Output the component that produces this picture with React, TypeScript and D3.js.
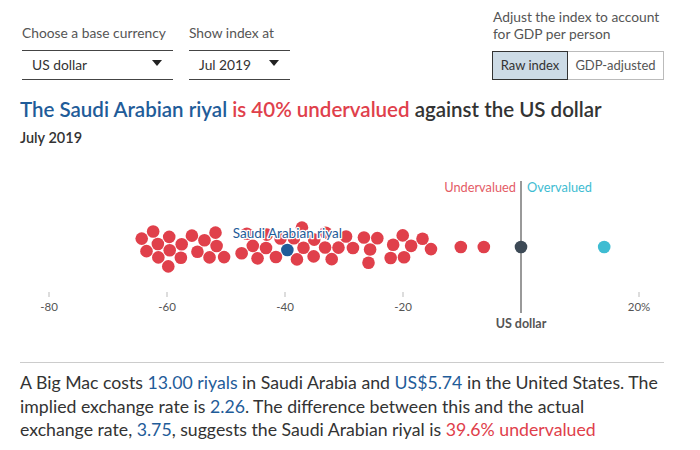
import React, { useMemo } from "react";
import * as d3 from "d3";

const redValues = [
  -64.2, -62.9, -62.2, -61.7, -61.2, -60.3, -59.7, -59.5, -57.8, -57.5, -55.8,
  -54.2, -53.9, -53.2, -51.9, -51.5, -50.5, -47.1, -46.3, -45.1, -44.5, -43.9,
  -43.1, -41.7, -40.5, -38.5, -37.8, -37.5, -36.3, -35.4, -34.9, -33.7, -33.2,
  -32.0, -31.0, -29.8, -28.5, -26.4, -25.8, -25.6, -24.6, -21.9, -21.5, -20.2,
  -19.8, -18.6, -16.9, -15.3, -10.2, -6.3,
];
const overValues = [14.1];
const baseValue = 0;
const highlightValue = -39.6;
const highlightName = "Saudi Arabian riyal";
const tickValues = [-80, -60, -40, -20, 20];
const tickLabels = ["-80", "-60", "-40", "-20", "20%"];

const FONT = "Lato, 'Open Sans', sans-serif";
const RED = "#e0404b";
const BLUE = "#1f5c99";
const LIGHT = "#3ebcd2";
const DARK = "#3d4a56";
const TEXT = "#333";
const GREY = "#555";

type Node = { value: number; kind: string; x: number; y: number; fx?: number; fy?: number };

export default function App() {
  const x = d3.scaleLinear().domain([-80, 20]).range([49, 639]);
  const cy = 247;
  const r = 6.3;

  const nodes = useMemo(() => {
    const ns: Node[] = [
      { value: highlightValue, kind: "hl", x: x(highlightValue), y: cy + 3, fx: x(highlightValue), fy: cy + 3 },
      ...redValues.map((v) => ({ value: v, kind: "red", x: x(v), y: cy })),
      ...overValues.map((v) => ({ value: v, kind: "over", x: x(v), y: cy })),
      { value: baseValue, kind: "base", x: x(baseValue), y: cy },
    ];
    const sim = d3
      .forceSimulation(ns as any)
      .force("x", d3.forceX((d: any) => x(d.value)).strength(0.6))
      .force("y", d3.forceY(cy).strength(0.09))
      .force("c", d3.forceCollide(r + 0.4).iterations(3))
      .stop();
    for (let i = 0; i < 300; i++) sim.tick();
    return ns;
  }, []);

  const colorOf = (k: string) =>
    k === "red" ? RED : k === "over" ? LIGHT : k === "base" ? DARK : BLUE;

  const hl = nodes.find((n) => n.kind === "hl")!;
  const others = nodes.filter((n) => n.kind !== "hl");

  return (
    <svg
      width={700}
      height={450}
      style={{ position: "absolute", left: 0, top: 0, background: "#fff" }}
      fontFamily={FONT}
    >
      {/* controls */}
      <text x={22} y={38} fontSize={13.8} fill={GREY}>Choose a base currency</text>
      <line x1={22} x2={173} y1={50.5} y2={50.5} stroke="#444" />
      <text x={32} y={70} fontSize={13.8} fill={TEXT}>US dollar</text>
      <path d="M152,60 L162,60 L157,66 Z" fill="#222" />
      <line x1={22} x2={173} y1={79.5} y2={79.5} stroke="#444" />

      <text x={189} y={38} fontSize={13.8} fill={GREY}>Show index at</text>
      <line x1={189} x2={290} y1={50.5} y2={50.5} stroke="#444" />
      <text x={199} y={70} fontSize={13.8} fill={TEXT}>Jul 2019</text>
      <path d="M269,60 L279,60 L274,66 Z" fill="#222" />
      <line x1={189} x2={290} y1={79.5} y2={79.5} stroke="#444" />

      <text x={493} y={22} fontSize={13.8} fill={GREY}>Adjust the index to account</text>
      <text x={493} y={39} fontSize={13.8} fill={GREY}>for GDP per person</text>
      <rect x={492.5} y={51.5} width={171} height={28} fill="#fff" stroke="#bbb" />
      <rect x={492.5} y={51.5} width={75} height={28} fill="#cddbe6" stroke="#333" />
      <text x={530} y={70} fontSize={13} fill={TEXT} textAnchor="middle">Raw index</text>
      <text x={615.5} y={70} fontSize={13} fill={GREY} textAnchor="middle">GDP-adjusted</text>

      {/* title */}
      <text x={20} y={117} fontSize={20.5} fontWeight={600}>
        <tspan fill={BLUE}>The Saudi Arabian riyal </tspan>
        <tspan fill={RED}>is 40% undervalued </tspan>
        <tspan fill={TEXT}>against the US dollar</tspan>
      </text>
      <text x={20} y={143} fontSize={14.5} fontWeight={600} fill={TEXT}>July 2019</text>

      {/* labels */}
      <text x={x(0) - 5} y={192} fontSize={12.8} fill={RED} textAnchor="end" opacity={0.85}>Undervalued</text>
      <text x={x(0) + 6} y={192} fontSize={12.8} fill={LIGHT}>Overvalued</text>
      <line x1={x(0)} x2={x(0)} y1={181} y2={313} stroke={GREY} strokeWidth={1.2} />

      {/* axis */}
      {tickValues.map((t, i) => (
        <g key={t} transform={`translate(${x(t)},0)`}>
          <line y1={292} y2={297} stroke="#bbb" />
          <text y={311} fontSize={11.5} fill={GREY} textAnchor="middle">{tickLabels[i]}</text>
        </g>
      ))}
      <text x={x(0)} y={328} fontSize={12.5} fontWeight={700} fill={GREY} textAnchor="middle">US dollar</text>

      {/* dots */}
      {others.map((n, i) => (
        <circle key={i} cx={n.x} cy={n.y} r={r} fill={colorOf(n.kind)} />
      ))}
      <text
        x={hl.x}
        y={238}
        fontSize={13.5}
        fill={BLUE}
        textAnchor="middle"
        stroke="#fff"
        strokeWidth={2.5}
        paintOrder="stroke"
        strokeLinejoin="round"
      >
        {highlightName}
      </text>
      <circle cx={hl.x} cy={hl.y} r={r} fill={BLUE} />

      {/* footer */}
      <line x1={20} x2={664} y1={362.5} y2={362.5} stroke="#ccc" />
      <text x={20} y={389} fontSize={17.7} fill={TEXT}>
        A Big Mac costs <tspan fill={BLUE}>13.00 riyals</tspan> in Saudi Arabia and{" "}
        <tspan fill={BLUE}>US$5.74</tspan> in the United States. The
      </text>
      <text x={20} y={413} fontSize={17.7} fill={TEXT}>
        implied exchange rate is <tspan fill={BLUE}>2.26</tspan>. The difference between this and the actual
      </text>
      <text x={20} y={436} fontSize={17.7} fill={TEXT}>
        exchange rate, <tspan fill={BLUE}>3.75</tspan>, suggests the Saudi Arabian riyal is{" "}
        <tspan fill={RED}>39.6% undervalued</tspan>
      </text>
    </svg>
  );
}
